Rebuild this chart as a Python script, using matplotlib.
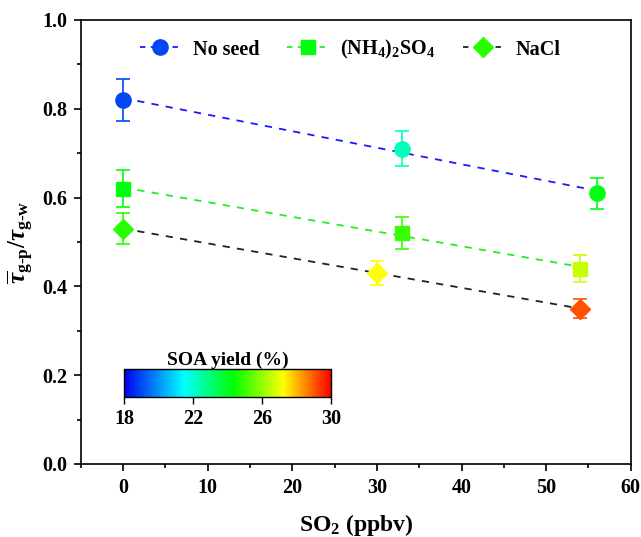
import numpy as np
import matplotlib
matplotlib.use("Agg")
import matplotlib.pyplot as plt
from matplotlib.colors import LinearSegmentedColormap, Normalize
from matplotlib.lines import Line2D
from matplotlib.ticker import MultipleLocator, FormatStrFormatter

plt.rcParams['font.family'] = ['Liberation Serif', 'DejaVu Serif']
plt.rcParams['font.weight'] = 'bold'
plt.rcParams['mathtext.fontset'] = 'custom'
plt.rcParams['mathtext.rm'] = 'Liberation Serif:bold'
plt.rcParams['mathtext.it'] = 'Liberation Serif:italic:bold'
plt.rcParams['mathtext.bf'] = 'Liberation Serif:bold'

# Data
series_names = ["No seed", "(NH$_4$)$_2$SO$_4$", "NaCl"]
noseed_x = [0, 33, 56]
noseed_y = [0.82, 0.71, 0.61]
noseed_err = [0.047, 0.04, 0.035]
noseed_yield = [19.0, 22.3, 24.1]

amsul_x = [0, 33, 54]
amsul_y = [0.62, 0.52, 0.44]
amsul_err = [0.042, 0.035, 0.03]
amsul_yield = [24.2, 25.0, 26.6]

nacl_x = [0, 30, 54]
nacl_y = [0.53, 0.43, 0.35]
nacl_err = [0.035, 0.027, 0.022]
nacl_yield = [24.8, 27.2, 29.1]

cbar_ticks = [18, 22, 26, 30]

cmap = LinearSegmentedColormap.from_list(
    "soa", [(0.0, '#0000f0'), (0.29, '#00ffff'), (0.53, '#00ff00'),
            (0.77, '#ffff00'), (1.0, '#ff0000')])
norm = Normalize(18, 30)

fig = plt.figure(figsize=(6.41, 5.37), dpi=100)
ax = fig.add_axes([0.126, 0.136, 0.858, 0.827])

series = [
    (noseed_x, noseed_y, noseed_err, noseed_yield, 'o', 11, '#1a1aff'),
    (amsul_x, amsul_y, amsul_err, amsul_yield, 's', 10, '#22ee22'),
    (nacl_x, nacl_y, nacl_err, nacl_yield, 'D', 10, '#222222'),
]

handles = []
for (xs, ys, es, yl, mk, ms, lc), name in zip(series, series_names):
    xs = np.array(xs, float); ys = np.array(ys, float)
    p = np.polyfit(xs, ys, 1)
    xf = np.array([xs.min(), xs.max()])
    ax.plot(xf, np.polyval(p, xf), ls=(0, (4, 4)), color=lc, lw=1.3, zorder=1)
    for x, y, e, v in zip(xs, ys, es, yl):
        c = cmap(norm(v))
        ax.errorbar(x, y, yerr=e, fmt=mk, ms=ms, color=c, mec=c, mfc=c,
                    ecolor=c, capsize=5, elinewidth=1.2, capthick=1.2, zorder=3)
    c0 = cmap(norm(yl[0]))
    handles.append(Line2D([], [], ls=(0, (3, 3)), color=lc, lw=1.3,
                          marker=mk, ms=ms, mfc=c0, mec=c0, label=name))

ax.set_xlim(-5, 60)
ax.set_ylim(0, 1.0)
ax.xaxis.set_major_locator(MultipleLocator(10))
ax.xaxis.set_minor_locator(MultipleLocator(5))
ax.yaxis.set_major_locator(MultipleLocator(0.2))
ax.yaxis.set_minor_locator(MultipleLocator(0.1))
ax.tick_params(which='both', direction='out', top=False, right=False, labelsize=14.5, width=1.2)
ax.tick_params(which='major', length=5, pad=5)
ax.tick_params(which='minor', length=3)
ax.xaxis.set_major_formatter(FormatStrFormatter('%d'))
ax.yaxis.set_major_formatter(FormatStrFormatter('%.1f'))
for s in ax.spines.values():
    s.set_linewidth(1.2)

ax.set_xlabel("SO$_2$ (ppbv)", fontsize=17, fontweight='bold', labelpad=10)
ax.set_ylabel(r"$\overline{\tau}_{\mathrm{g\text{-}p}}/\tau_{\mathrm{g\text{-}w}}$",
              fontsize=18, labelpad=4)

leg = ax.legend(handles=handles, loc='upper center', ncol=3, frameon=False,
                prop={'weight': 'bold', 'size': 14.5}, handlelength=2.0,
                columnspacing=1.4, handletextpad=0.6, bbox_to_anchor=(0.49, 1.0))

# colorbar
cax = fig.add_axes([124/641, 1-397/537, (331-124)/641, (397-369)/537])
cb = matplotlib.colorbar.ColorbarBase(cax, cmap=cmap, norm=norm, orientation='horizontal',
                                      ticks=cbar_ticks)
cb.outline.set_linewidth(1.0)
cax.tick_params(labelsize=14.5, direction='out', length=5, width=1)
cax.set_title("SOA yield (%)", fontsize=14, fontweight='bold', pad=2)

fig.savefig("out.png", dpi=100)
